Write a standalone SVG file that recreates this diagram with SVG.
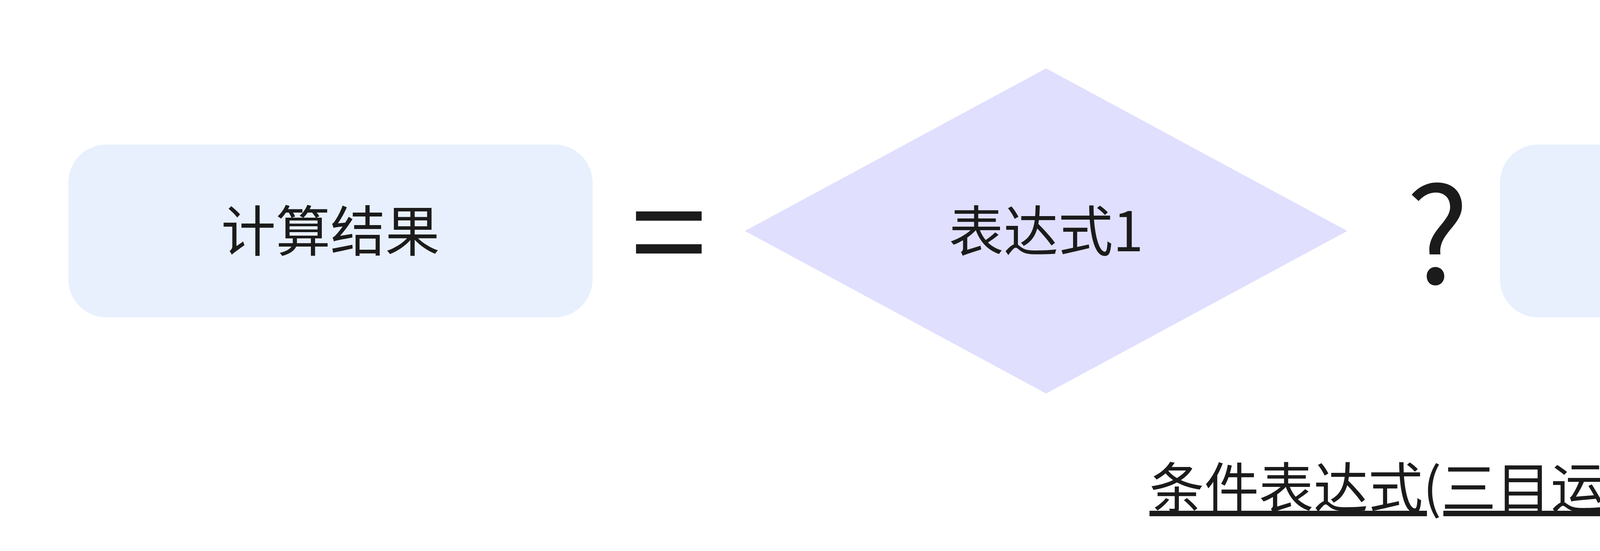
<svg xmlns="http://www.w3.org/2000/svg" width="7089" height="1410" viewBox="0 0 7089 1410">
<style>
text{font-family:"Noto Sans CJK SC","Noto Sans",sans-serif;fill:#1b1b1b}
.box{fill:#e8f0fe}
.dia{fill:#e0dffe}
.lbl{font-size:140px;text-anchor:middle}
.op{font-size:350px;text-anchor:middle}
</style>
<rect width="7089" height="1410" fill="#ffffff"/>
<g id="connectors"></g>
<g id="n-result">
<rect class="box" x="175" y="370" width="1342" height="442" rx="97" ry="97"/>
<text class="lbl" x="846" y="643">计算结果</text>
</g>
<g id="op-eq"><text class="op" x="1712" y="724">=</text></g>
<g id="n-expr1">
<polygon class="dia" points="2678,175 3449,591 2678,1007 1907,591"/>
<text class="lbl" x="2678" y="643">表达式1</text>
</g>
<g id="op-q"><text class="op" x="3680" y="726" style="font-size:340px">?</text></g>
<g id="n-expr2">
<rect class="box" x="3840" y="370" width="1342" height="442" rx="97" ry="97"/>
<text class="lbl" x="4511" y="643">表达式2</text>
</g>
<g id="op-colon"><text class="op" x="5377" y="724">:</text></g>
<g id="n-expr3">
<rect class="box" x="5572" y="370" width="1342" height="442" rx="97" ry="97"/>
<text class="lbl" x="6243" y="643">表达式3</text>
</g>
<g id="title"><text class="lbl" x="3690" y="1300" text-decoration="underline">条件表达式(三目运算符)</text></g>
</svg>
